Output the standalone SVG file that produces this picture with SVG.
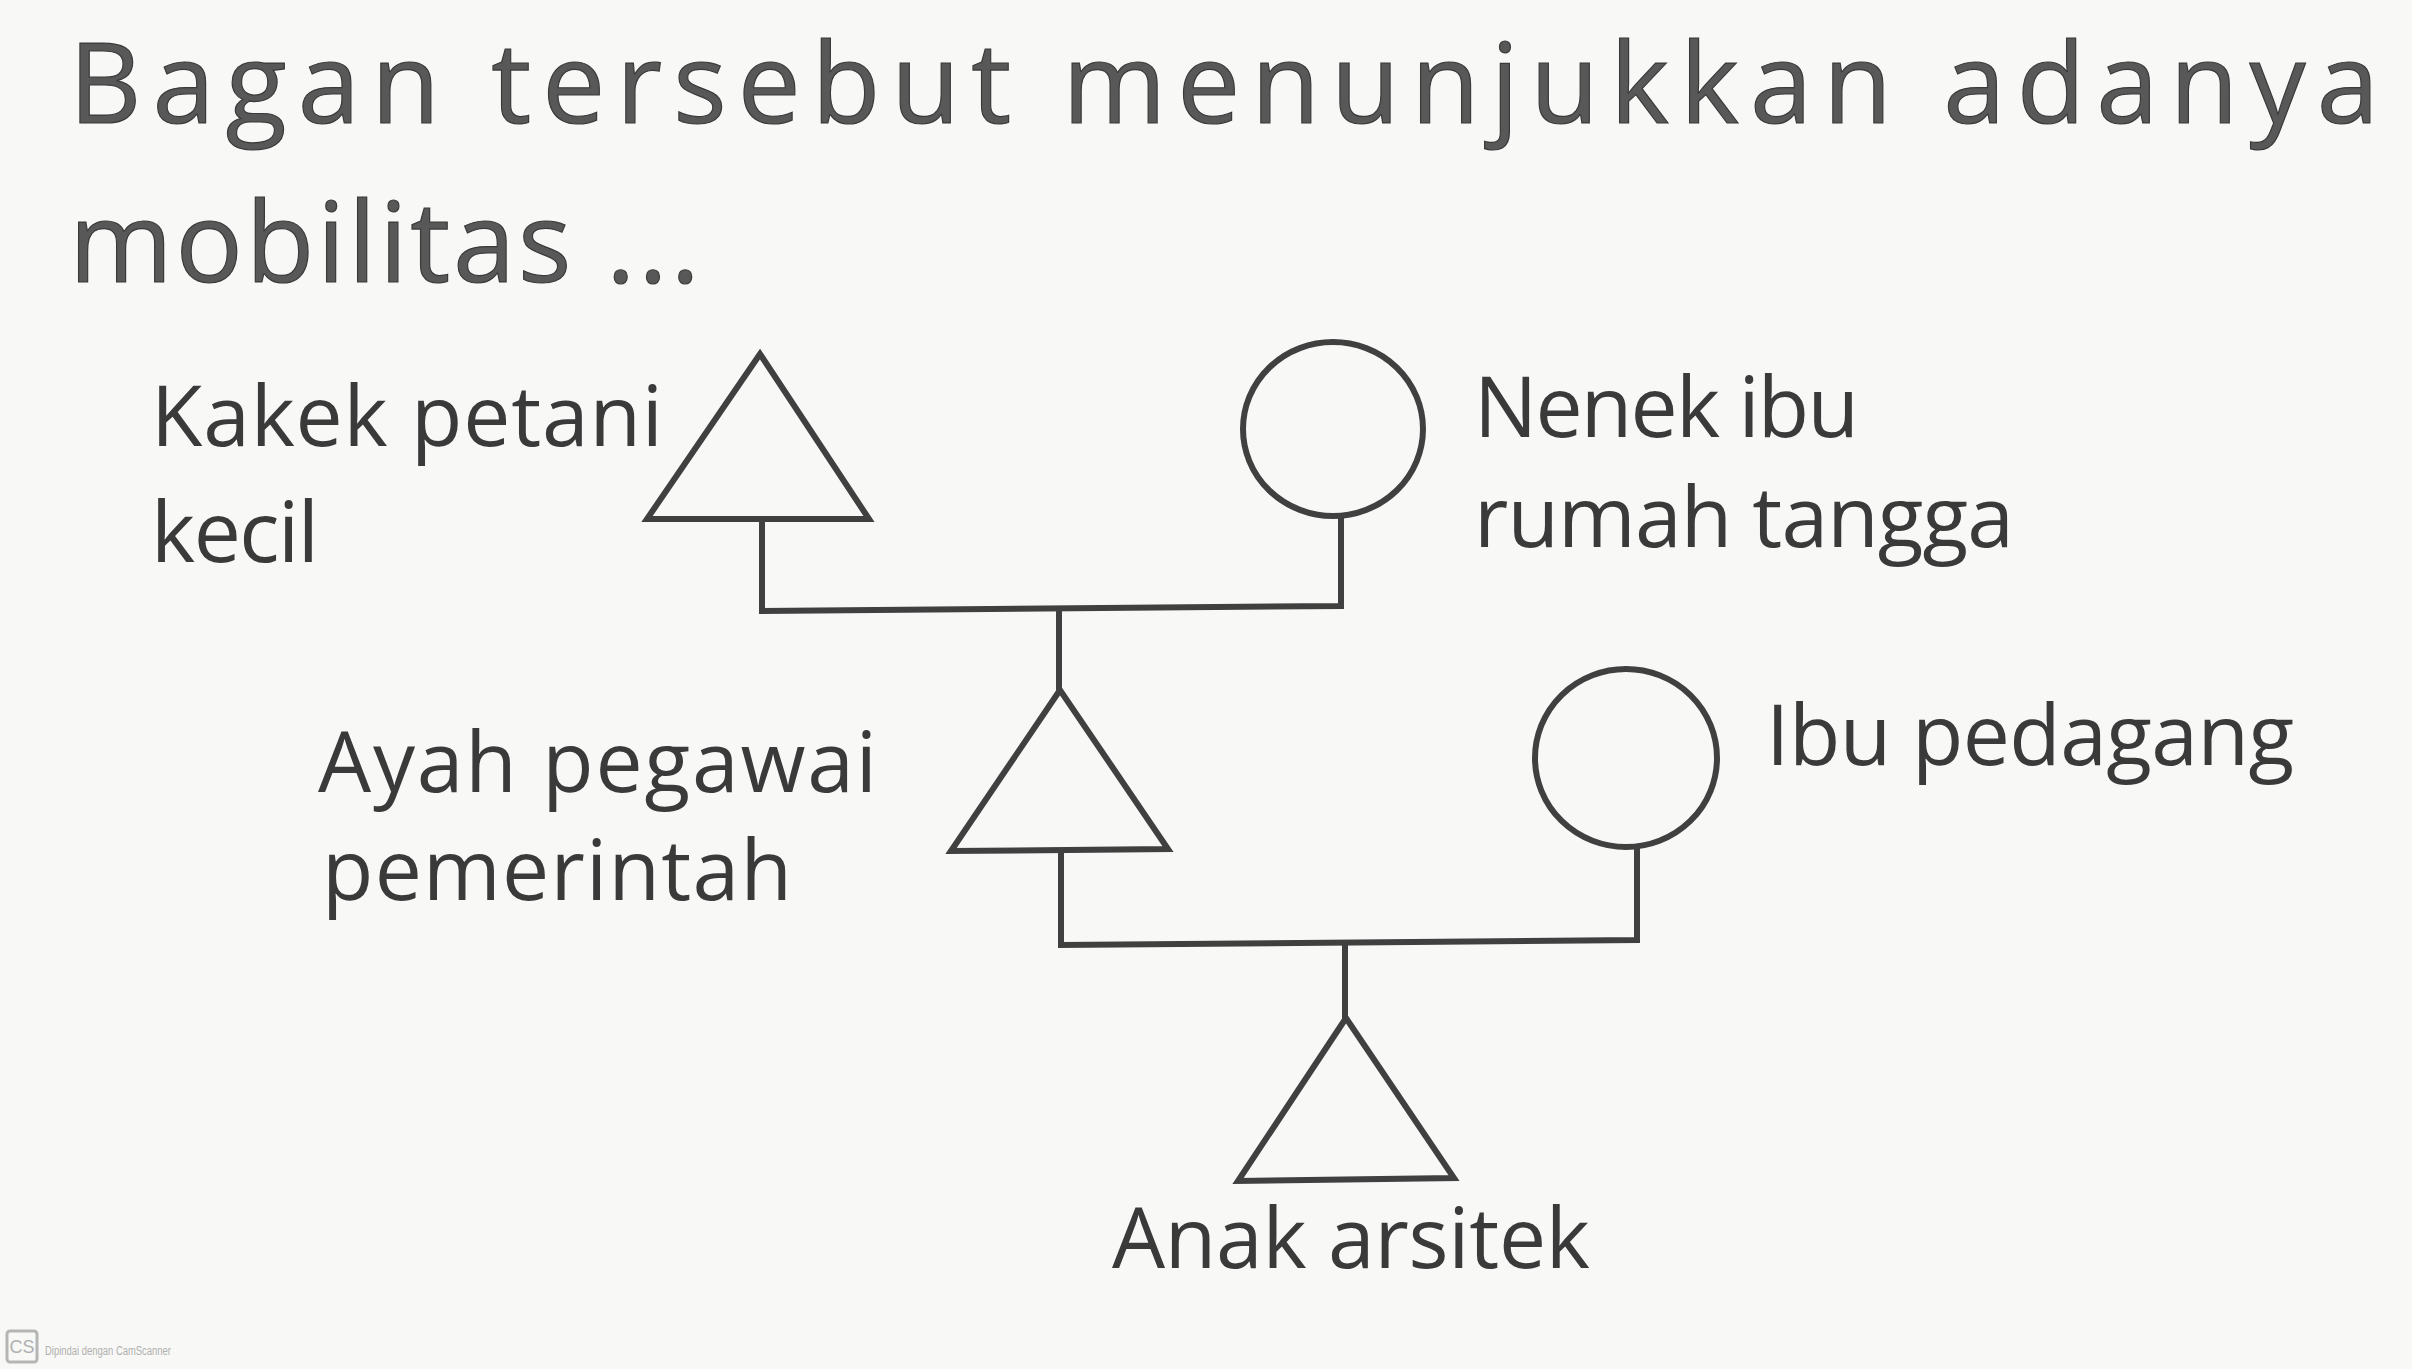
<svg xmlns="http://www.w3.org/2000/svg" width="2412" height="1369" viewBox="0 0 2412 1369">
<style>
.title{font-family:"Open Sans","Liberation Sans",sans-serif;font-size:112px;fill:#585858;stroke:#3a3a3a;stroke-width:1.2px}
.lbl{font-family:"Open Sans","Liberation Sans",sans-serif;font-size:84px;fill:#3a3a3a}
.shape{fill:none;stroke:#404040;stroke-width:6;stroke-linejoin:miter}
.conn{fill:none;stroke:#404040;stroke-width:6;stroke-linejoin:miter}
.wm{font-family:"Liberation Sans",sans-serif;font-size:12px;fill:#b0b0b0}
</style>
<rect x="0" y="0" width="2412" height="1369" fill="#f8f8f6"/>
<g id="title">
<text class="title" x="69" y="123" textLength="2310" lengthAdjust="spacing">Bagan tersebut menunjukkan adanya</text>
<text class="title" x="69" y="282" textLength="631" lengthAdjust="spacing">mobilitas ...</text>
</g>
<g id="connectors">
<polyline class="conn" points="762,520 762,611 1341,606 1341,516"/>
<line class="conn" x1="1059" y1="609" x2="1059" y2="690"/>
<polyline class="conn" points="1061,851 1061,945 1637,940 1637,846"/>
<line class="conn" x1="1345" y1="942" x2="1345" y2="1018"/>
</g>
<g id="kakek">
<polygon class="shape" points="760,354 647,519 869,519"/>
<text class="lbl" x="151" y="446" textLength="512" lengthAdjust="spacing">Kakek petani</text>
<text class="lbl" x="151" y="562" textLength="168" lengthAdjust="spacing">kecil</text>
</g>
<g id="nenek">
<ellipse class="shape" cx="1333" cy="429" rx="90" ry="87"/>
<text class="lbl" x="1474" y="437" textLength="385" lengthAdjust="spacing">Nenek ibu</text>
<text class="lbl" x="1474" y="547" textLength="540" lengthAdjust="spacing">rumah tangga</text>
</g>
<g id="ayah">
<polygon class="shape" points="1060,690 951,851 1168,849"/>
<text class="lbl" x="318" y="792" textLength="559" lengthAdjust="spacing">Ayah pegawai</text>
<text class="lbl" x="322" y="900" textLength="470" lengthAdjust="spacing">pemerintah</text>
</g>
<g id="ibu">
<ellipse class="shape" cx="1626" cy="758" rx="91" ry="89"/>
<text class="lbl" x="1766" y="765" textLength="528" lengthAdjust="spacing">Ibu pedagang</text>
</g>
<g id="anak">
<polygon class="shape" points="1346,1018 1238,1181 1454,1178"/>
<text class="lbl" x="1112" y="1268" textLength="478" lengthAdjust="spacing">Anak arsitek</text>
</g>
<g id="watermark">
<rect x="7" y="1331" width="30" height="31" rx="3" fill="none" stroke="#b5b5b5" stroke-width="3"/>
<text x="22" y="1353" text-anchor="middle" style="font-family:'Liberation Sans',sans-serif;font-size:18px;fill:#b0b0b0">CS</text>
<text class="wm" x="45" y="1355" textLength="126" lengthAdjust="spacingAndGlyphs">Dipindai dengan CamScanner</text>
</g>
</svg>
